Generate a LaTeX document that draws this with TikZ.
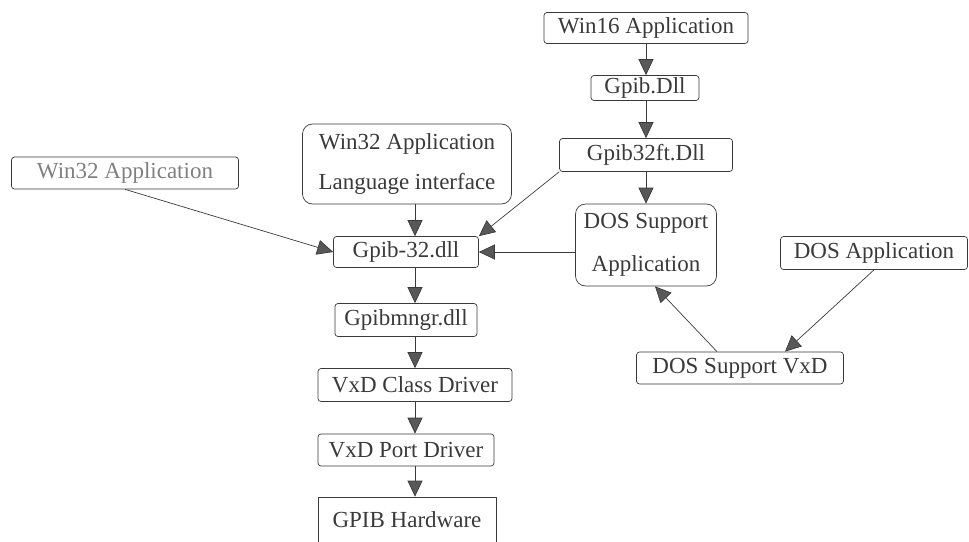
\documentclass[tikz,border=0pt]{standalone}
\usepackage{fontspec}
\setmainfont{Liberation Serif}
\usetikzlibrary{arrows.meta}
\definecolor{inkgray}{HTML}{3A3A3A}
\begin{document}
\begin{tikzpicture}[x=1pt, y=-1pt, line width=0.7pt, line join=round,
  box/.style={draw=inkgray, text=inkgray, rounded corners=3pt, inner sep=0pt,
    font=\fontsize{23}{40}\selectfont, align=center},
  bigbox/.style={box, rounded corners=10pt},
  arr/.style={draw=inkgray, -{Triangle[length=16pt, width=15pt, fill=inkgray!85]}}]
  \useasboundingbox (0,0) rectangle (969,541);
  \clip (0,0) rectangle (969,541);
  % the Win16 chain on the right
  \node[box, minimum width=204pt, minimum height=31pt] (win16) at (646,28) {Win16 Application};
  \node[box, minimum width=108pt, minimum height=25pt] (gpibdll) at (645,88) {Gpib.Dll};
  \node[box, minimum width=173pt, minimum height=33pt] (gpibft) at (646,155) {Gpib32ft.Dll};
  \node[bigbox, minimum width=141pt, minimum height=82pt] (dossup) at (646,245) {DOS Support\\[3pt]Application};
  % the DOS side
  \node[box, minimum width=187pt, minimum height=33pt] (dosapp) at (874,253) {DOS Application};
  \node[box, minimum width=207pt, minimum height=32pt] (dosvxd) at (740,368) {DOS Support VxD};
  % the Win32 entries on the left
  \node[box, text=gray, minimum width=227pt, minimum height=32pt] (win32) at (125,173) {Win32 Application};
  \node[bigbox, minimum width=209pt, minimum height=80pt] (win32li) at (407,164) {Win32 Application\\Language interface};
  % the main column down to the hardware
  \node[box, minimum width=145pt, minimum height=31pt] (gpib32) at (406,252) {Gpib-32.dll};
  \node[box, minimum width=142pt, minimum height=33pt] (mngr) at (406,320) {Gpibmngr.dll};
  \node[box, minimum width=194pt, minimum height=33pt] (vxdclass) at (415,385) {VxD Class Driver};
  \node[box, minimum width=176pt, minimum height=32pt] (vxdport) at (406,450) {VxD Port Driver};
  \node[box, rounded corners=0pt, minimum width=178pt, minimum height=46pt] (hw) at (407,520) {GPIB Hardware};
  % arrows
  \draw[arr] (win16.south) -- (win16.south |- gpibdll.north);
  \draw[arr] (win16.south |- gpibdll.south) -- (win16.south |- gpibft.north);
  \draw[arr] (win16.south |- gpibft.south) -- (win16.south |- dossup.north);
  \draw[arr] (gpibft.south west) -- (gpib32.north east);
  \draw[arr] (win32.south) -- (gpib32.west);
  \draw[arr] (dossup.west |- gpib32) -- (gpib32.east);
  \draw[arr] ([xshift=-23pt]dosvxd.north) -- ([xshift=9pt]dossup.south);
  \draw[arr] (dosapp.south) -- ([xshift=45pt]dosvxd.north);
  \draw[arr] (win32li.south -| vxdclass) -- (gpib32.north -| vxdclass);
  \draw[arr] (gpib32.south -| vxdclass) -- (mngr.north -| vxdclass);
  \draw[arr] (mngr.south -| vxdclass) -- (vxdclass.north);
  \draw[arr] (vxdclass.south) -- (vxdport.north -| vxdclass);
  \draw[arr] (vxdport.south -| vxdclass) -- (hw.north -| vxdclass);
\end{tikzpicture}
\end{document}
